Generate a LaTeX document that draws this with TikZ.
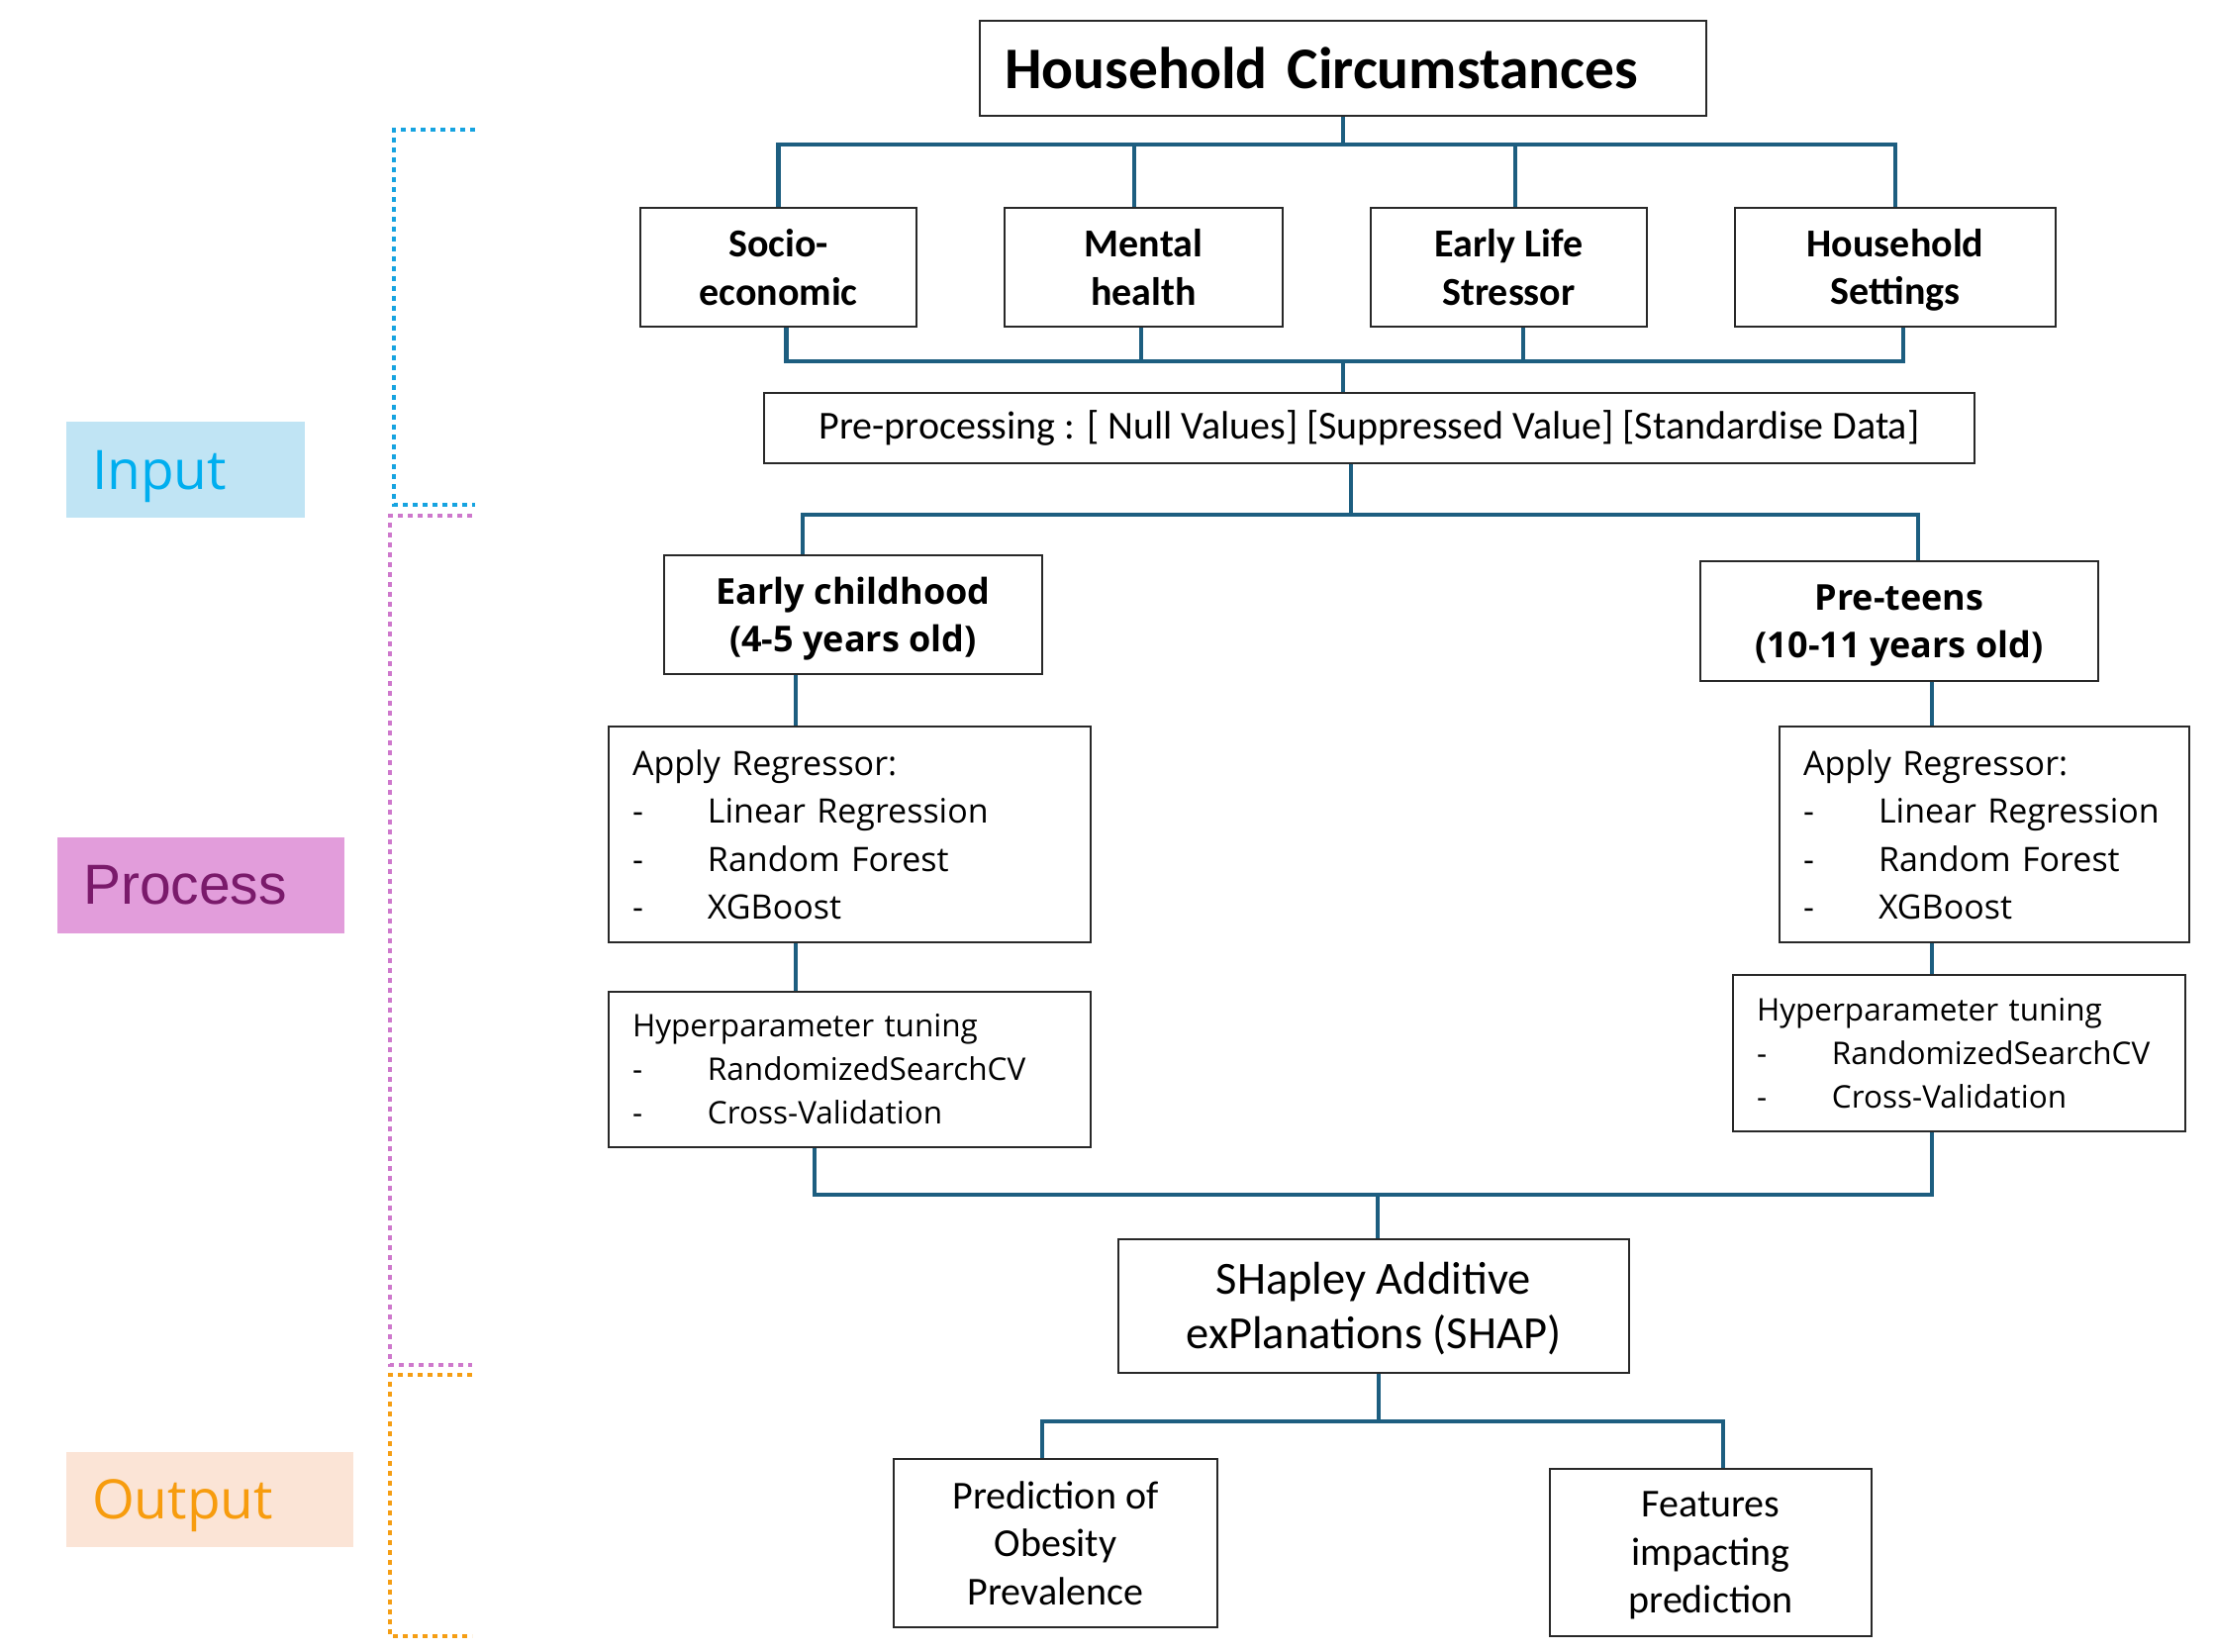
\documentclass[tikz,border=0pt]{standalone}
\usepackage{fontspec}
\setmainfont{Carlito}
\newfontfamily\osf{Open Sans}
\newfontfamily\lsf{Liberation Sans}
\definecolor{connc}{RGB}{29,94,128}
\definecolor{boxc}{RGB}{40,40,40}
\definecolor{inblue}{RGB}{0,174,239}
\definecolor{infill}{RGB}{192,228,244}
\definecolor{prtext}{RGB}{122,26,107}
\definecolor{prfill}{RGB}{226,157,219}
\definecolor{outtext}{RGB}{247,156,14}
\definecolor{outfill}{RGB}{251,228,214}
\definecolor{dotblue}{RGB}{22,163,224}
\definecolor{dotpink}{RGB}{206,120,204}
\definecolor{dotorange}{RGB}{245,158,20}
\newcommand{\hcfont}{\fontsize{59.5}{72}\selectfont\bfseries}
\newcommand{\subfont}{\fontsize{40}{48.5}\selectfont\bfseries}
\newcommand{\ppfont}{\fontsize{40}{48}\selectfont}
\newcommand{\ecfont}{\osf\bfseries\fontsize{36}{48.5}\selectfont}
\newcommand{\arfont}{\osf\fontsize{34}{48.5}\selectfont}
\newcommand{\hpfont}{\osf\fontsize{31.5}{44}\selectfont}
\newcommand{\shfont}{\fontsize{46.5}{55}\selectfont}
\newcommand{\oufont}{\fontsize{40}{48.5}\selectfont}
\newcommand{\itm}[1]{\makebox[76pt][l]{-}#1}
\begin{document}
\begin{tikzpicture}[x=1pt,y=-1pt,
  box/.style={draw=boxc, line width=2.2pt, inner sep=0pt, align=center},
  lbox/.style={draw=boxc, line width=2.2pt, inner ysep=0pt, inner xsep=24pt, align=left},
  conn/.style={draw=connc, line width=4.5pt, line join=miter},
  tag/.style={inner ysep=0pt, inner xsep=26pt, align=left},
  brk/.style={line width=4.8pt, dash pattern=on 5pt off 5pt}]
\useasboundingbox (0,0) rectangle (2238,1668);

% left tags
\node[tag, fill=infill, text=inblue, font=\osf\fontsize{55}{66}\selectfont,
  minimum height=97pt, text width=189pt, text depth=0pt] (inp) at (187.5,474.5) {Input};
\node[tag, fill=prfill, text=prtext, font=\lsf\fontsize{57}{68}\selectfont,
  minimum height=97pt, text width=238pt] (proc) at (203,894.5) {Process};
\node[tag, fill=outfill, text=outtext, font=\osf\fontsize{55}{66}\selectfont,
  minimum height=96pt, text width=238pt, text depth=0pt] (outp) at (212,1515) {Output};

% dotted brackets
\draw[brk, dotblue] (480,131) -- (398,131) -- (398,510) -- (480,510);
\draw[brk, dotpink] (477,521) -- (394,521) -- (394,1379) -- (477,1379);
\draw[brk, dotorange] (477,1389) -- (394,1389) -- (394,1653) -- (477,1653);

% boxes
\node[lbox, inner xsep=25pt, minimum height=96pt, text width=684pt, font=\hcfont] (hc) at (1357,69) {Household Circumstances};
\node[box, minimum width=279pt, minimum height=120pt, font=\subfont] (socio) at (786.5,270) {Socio-\\economic};
\node[box, minimum width=281pt, minimum height=120pt, font=\subfont] (ment) at (1155.5,270) {Mental\\health};
\node[box, minimum width=279pt, minimum height=120pt, font=\subfont] (els) at (1524.5,270) {Early Life\\Stressor};
\node[box, minimum width=324pt, minimum height=120pt, font=\subfont, text depth=1.5pt] (hset) at (1915,270) {Household\\Settings};
\node[box, minimum width=1223pt, minimum height=71pt, font=\ppfont] (pre) at (1383.5,432.5) {Pre-processing : [ Null Values] [Suppressed Value] [Standardise Data]};

\node[box, minimum width=382pt, minimum height=120pt, font=\ecfont, text depth=0pt] (ech) at (862,621) {Early childhood\\(4-5 years old)};
\node[box, minimum width=402pt, minimum height=121pt, font=\ecfont, text depth=0pt] (pt) at (1919,627.5) {Pre-teens\\(10-11 years old)};

\node[lbox, minimum height=218pt, text width=439pt, font=\arfont] (arL) at (858.5,843) {Apply Regressor:\\\itm{Linear Regression}\\\itm{Random Forest}\\\itm{XGBoost}};
\node[lbox, minimum height=157pt, text width=439pt, font=\hpfont] (hpL) at (858.5,1080.5) {Hyperparameter tuning\\\itm{RandomizedSearchCV}\\\itm{Cross-Validation}};
\node[lbox, minimum height=218pt, text width=366pt, font=\arfont] (arR) at (2005,843) {Apply Regressor:\\\itm{Linear Regression}\\\itm{Random Forest}\\\itm{XGBoost}};
\node[lbox, minimum height=158pt, text width=409pt, font=\hpfont] (hpR) at (1979.5,1064) {Hyperparameter tuning\\\itm{RandomizedSearchCV}\\\itm{Cross-Validation}};

\node[box, minimum width=516pt, minimum height=135pt, font=\shfont, text depth=2pt] (shap) at (1388,1319.5) {SHapley Additive\\exPlanations (SHAP)};
\node[box, minimum width=327pt, minimum height=170pt, font=\oufont] (pred) at (1066.5,1559) {Prediction of\\Obesity\\Prevalence};
\node[box, minimum width=325pt, minimum height=169pt, font=\oufont, text depth=0pt] (feat) at (1728.5,1568.5) {Features\\impacting\\prediction};

% bus coordinates
\coordinate (b1) at (1357,146);
\coordinate (b2) at (1357,365);
\coordinate (b3) at (1365,520);
\coordinate (b4) at (1392,1207);
\coordinate (b5) at (1393,1436);
\coordinate (xL) at (804,0);
\coordinate (xL2) at (823,0);
\coordinate (xR) at (1952,0);

% connectors
\draw[conn] (hc.south) -- (b1);
\draw[conn] (b1) -| (socio.north);
\draw[conn] (b1) -| ([xshift=-9.5pt]ment.north);
\draw[conn] (b1) -| ([xshift=6.5pt]els.north);
\draw[conn] (b1) -| (hset.north);

\draw[conn] ([xshift=8pt]socio.south) |- (b2);
\draw[conn] ([xshift=-2.5pt]ment.south) |- (b2);
\draw[conn] ([xshift=14.5pt]els.south) |- (b2);
\draw[conn] ([xshift=8pt]hset.south) |- (b2);
\draw[conn] (b2) -- (b2 |- pre.north);

\draw[conn] (b3 |- pre.south) -- (b3);
\draw[conn] (b3) -| ([xshift=-51pt]ech.north);
\draw[conn] (b3) -| ([xshift=19pt]pt.north);

\draw[conn] (ech.south -| xL) -- (arL.north -| xL);
\draw[conn] (arL.south -| xL) -- (hpL.north -| xL);
\draw[conn] (pt.south -| xR) -- (arR.north -| xR);
\draw[conn] (arR.south -| xR) -- (hpR.north -| xR);

\draw[conn] (hpL.south -| xL2) |- (b4);
\draw[conn] (hpR.south -| xR) |- (b4);
\draw[conn] (b4) -- (b4 |- shap.north);

\draw[conn] (b5 |- shap.south) -- (b5);
\draw[conn] (b5) -| ([xshift=-13.5pt]pred.north);
\draw[conn] (b5) -| ([xshift=12.5pt]feat.north);
\end{tikzpicture}
\end{document}
